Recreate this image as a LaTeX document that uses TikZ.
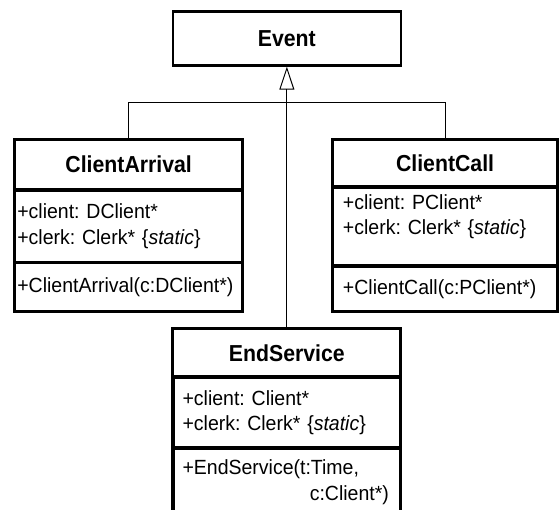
\documentclass[tikz,border=0pt]{standalone}
\usepackage{fontspec}
\setmainfont[FakeStretch=0.95]{Liberation Sans}
\newfontfamily\titlefont[FakeStretch=0.92]{Liberation Sans}
\usetikzlibrary{arrows.meta,positioning}
\frenchspacing

\tikzset{
	classname/.style={draw, line width=1pt, anchor=north, inner sep=0pt, font=\titlefont\fontsize{11.6}{13}\selectfont\bfseries},
	classpart/.style={draw, line width=1pt, anchor=north, inner ysep=0pt, align=left, font=\fontsize{10.3}{12.8}\selectfont},
	classbox/.style={draw, line width=1.3pt},
	busline/.style={line width=0.5pt},
	inheritline/.style={line width=0.5pt, -{Triangle[open, length=11.5pt, width=7.5pt]}}
}

\begin{document}
\begin{tikzpicture}
	\useasboundingbox (0,0) rectangle (9.86,-8.98);

	\node[classname, classbox, minimum width=4.02cm, minimum height=0.95cm] (event) at (5.06,-0.18) {Event};

	\node[classname, minimum width=4cm, minimum height=0.86cm] (arrival) at (2.27,-2.45) {ClientArrival};
	\node[classpart, text width=3.93cm, inner xsep=1pt, minimum height=1.25cm, below=0pt of arrival] (arrivalattr) {+client: DClient*\\+clerk: Clerk* \{\textit{static}\}};
	\node[classpart, text width=3.93cm, inner xsep=1pt, minimum height=0.83cm, below=0pt of arrivalattr] (arrivalop) {+ClientArrival(c:DClient*)};
	\draw[classbox] (arrival.north west) rectangle (arrivalop.south east);

	\node[classname, minimum width=3.95cm, minimum height=0.81cm] (call) at (7.85,-2.45) {ClientCall};
	\node[classpart, text width=3.6cm, inner xsep=5pt, minimum height=1.36cm, below=0pt of call] (callattr) {+client: PClient*\\+clerk: Clerk* \{\textit{static}\}\rule[-12pt]{0pt}{0pt}};
	\node[classpart, text width=3.6cm, inner xsep=5pt, minimum height=0.78cm, below=0pt of callattr] (callop) {+ClientCall(c:PClient*)};
	\draw[classbox] (call.north west) rectangle (callop.south east);

	\node[classname, minimum width=4cm, minimum height=0.83cm] (service) at (5.06,-5.79) {EndService};
	\node[classpart, text width=3.68cm, inner xsep=4.5pt, minimum height=1.22cm, below=0pt of service] (serviceattr) {+client: Client*\\+clerk: Clerk* \{\textit{static}\}};
	\node[classpart, text width=3.68cm, inner xsep=4.5pt, minimum height=1.16cm, below=0pt of serviceattr] (serviceop) {+EndService(t:Time,\\\hspace*{6.2em}c:Client*)};
	\draw[classbox] (service.north west) rectangle (serviceop.south east);

	\coordinate (bus) at (5.06,-1.8);
	\draw[busline] (arrival.north) |- (bus) -| (call.north);
	\draw[inheritline] (service.north) -- (event.south);
\end{tikzpicture}
\end{document}
